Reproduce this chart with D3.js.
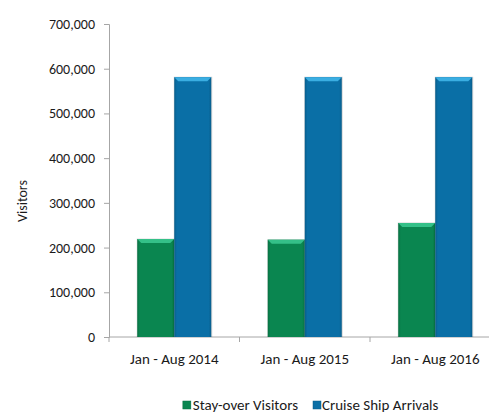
<!DOCTYPE html>
<html><head><meta charset="utf-8">
<script src="https://cdn.jsdelivr.net/npm/d3@7"></script>
<style>
html,body{margin:0;padding:0;background:#fff;}
svg{display:block;}
text{font-family:Carlito, Lato, "Open Sans", sans-serif;fill:#1a1a1a;}
</style></head>
<body>
<svg id="c" width="489" height="413"></svg>
<script>
const categories = ["Jan - Aug 2014", "Jan - Aug 2015", "Jan - Aug 2016"];
const seriesNames = ["Stay-over Visitors", "Cruise Ship Arrivals"];
const stayOver = [219000, 217500, 255000];
const cruise = [581000, 581000, 581000];
const yTicks = [0, 100000, 200000, 300000, 400000, 500000, 600000, 700000];
const colors = ["#0a8650", "#0a6fa6"];
const lights = ["#34c088", "#3aaee2"];

const svg = d3.select("#c");
const x0 = 109, x1 = 500.5, yTop = 24, yBot = 337;
const x = d3.scaleBand().domain(categories).range([x0, x1]).paddingInner(0).paddingOuter(0);
const xs = d3.scaleBand().domain(seriesNames).range([0, x.bandwidth()]).paddingInner(0).paddingOuter(0.763);
const y = d3.scaleLinear().domain([0, 700000]).range([yBot, yTop]);

const defs = svg.append("defs");
colors.forEach((c, i) => {
  const g = defs.append("linearGradient").attr("id", "g" + i).attr("x1", 0).attr("x2", 1).attr("y1", 0).attr("y2", 0);
  g.append("stop").attr("offset", "0%").attr("stop-color", d3.color(c).darker(0.5));
  g.append("stop").attr("offset", "7%").attr("stop-color", c);
  g.append("stop").attr("offset", "93%").attr("stop-color", c);
  g.append("stop").attr("offset", "100%").attr("stop-color", d3.color(c).darker(0.5));
});

// axes
const yAxis = d3.axisLeft(y).tickValues(yTicks).tickSize(5).tickPadding(9).tickFormat(d3.format(","));
const gy = svg.append("g").attr("transform", `translate(${x0},0)`).call(yAxis);
gy.select(".domain").attr("stroke", "#a6a6a6");
gy.selectAll(".tick line").attr("stroke", "#a6a6a6");
gy.selectAll(".tick text").style("font-size", "14px").attr("fill", "#1a1a1a");

const xAxis = d3.axisBottom(x).tickSize(0);
const gx = svg.append("g").attr("transform", `translate(0,${yBot})`).call(xAxis);
gx.select(".domain").attr("stroke", "#a6a6a6").attr("d", `M${x0},0H489`);
gx.selectAll(".tick text").style("font-size", "15px").attr("fill", "#1a1a1a").attr("y", 27).attr("dy", 0);
// category boundary ticks
svg.append("g").selectAll("line").data(categories).join("line")
  .attr("x1", d => x(d)).attr("x2", d => x(d))
  .attr("y1", yBot).attr("y2", yBot + 5).attr("stroke", "#a6a6a6");

// bars
const data = categories.map((c, i) => ({c, vals: [stayOver[i], cruise[i]]}));
const groups = svg.append("g").selectAll("g").data(data).join("g")
  .attr("transform", d => `translate(${x(d.c)},0)`);
groups.each(function(d) {
  const g = d3.select(this);
  d.vals.forEach((v, i) => {
    const bx = xs(seriesNames[i]), bw = xs.bandwidth(), by = y(v), bh = y(0) - y(v);
    g.append("rect").attr("x", bx - 0.5).attr("y", by - 0.5).attr("width", bw + 1.5).attr("height", bh + 0.5)
      .attr("fill", "rgba(0,0,0,0.15)");
    g.append("rect").attr("x", bx).attr("y", by).attr("width", bw).attr("height", bh)
      .attr("fill", `url(#g${i})`);
    g.append("path")
      .attr("d", `M${bx},${by}H${bx + bw}L${bx + bw - 4},${by + 4}H${bx + 4}Z`)
      .attr("fill", lights[i]);
  });
});

// y title
svg.append("text").attr("transform", "translate(27,201) rotate(-90)").attr("text-anchor", "middle")
  .style("font-size", "14px").text("Visitors");

// legend
const leg = svg.append("g").attr("transform", "translate(0,410)");
const t0 = leg.append("text").attr("x", 298).attr("y", 0).attr("text-anchor", "end").style("font-size", "15px").text(seriesNames[0]);
const w0 = t0.node().getComputedTextLength();
const sqX = [298 - w0 - 10, 313];
leg.append("text").attr("x", 322).attr("y", 0).style("font-size", "15px").text(seriesNames[1]);
seriesNames.forEach((n, i) => {
  leg.append("rect").attr("x", sqX[i]).attr("y", -9).attr("width", 8).attr("height", 8)
    .attr("fill", `url(#g${i})`).attr("stroke", d3.color(colors[i]).darker(0.5)).attr("stroke-width", 0.5);
});
</script>
</body></html>
